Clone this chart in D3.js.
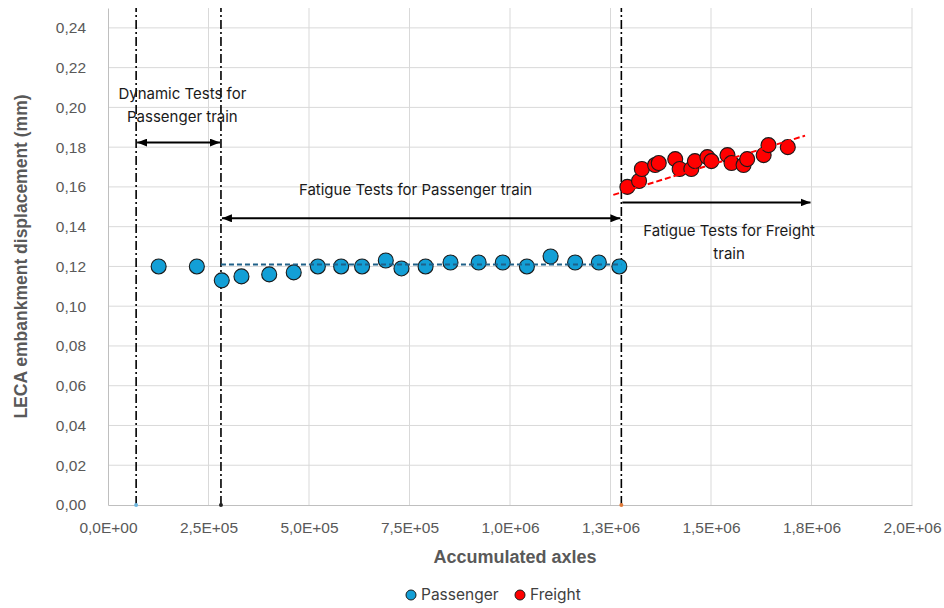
<!DOCTYPE html>
<html>
<head>
<meta charset="utf-8">
<script src="https://cdn.jsdelivr.net/npm/d3@7"></script>
<style>
  html, body { margin: 0; padding: 0; background: #fff; }
  svg { display: block; }
</style>
</head>
<body>
<svg id="chart" width="944" height="608"></svg>
<script>
// Passenger train measurements
const passengerAxles = [126000, 221000, 283000, 332000, 401000, 462000, 522000, 580000, 632000, 691000,
  730000, 790000, 852000, 922000, 982000, 1042000, 1101000, 1162000, 1221000, 1272000];
const passengerDisp = [0.120, 0.120, 0.113, 0.115, 0.116, 0.117, 0.120, 0.120, 0.120, 0.123,
  0.119, 0.120, 0.122, 0.122, 0.122, 0.120, 0.125, 0.122, 0.122, 0.120];

// Freight train measurements
const freightAxles = [1292000, 1321000, 1328000, 1361000, 1370000, 1411000, 1422000, 1451000, 1460000,
  1491000, 1501000, 1541000, 1551000, 1581000, 1590000, 1631000, 1643000, 1691000];
const freightDisp = [0.160, 0.163, 0.169, 0.171, 0.172, 0.174, 0.169, 0.169, 0.173,
  0.175, 0.173, 0.176, 0.172, 0.171, 0.174, 0.176, 0.181, 0.180];

// Trend lines (end points)
const passengerTrendAxles = [281000, 1277000];
const passengerTrendDisp = [0.121, 0.121];
const freightTrendAxles = [1257000, 1734000];
const freightTrendDisp = [0.156, 0.1858];

// Phase boundaries
const phaseBounds = [70000, 281000, 1277000];
const phaseBoundColors = ["#6fb8e0", "#222222", "#e07b39"];

// Axis ticks
const xTicks = [0, 250000, 500000, 750000, 1000000, 1250000, 1500000, 1750000, 2000000];
const yTicks = [0, 0.02, 0.04, 0.06, 0.08, 0.10, 0.12, 0.14, 0.16, 0.18, 0.20, 0.22, 0.24];

// Phase annotations
const phaseArrows = [
  { from: 70000, to: 281000, level: 0.1823, both: true },
  { from: 281000, to: 1277000, level: 0.1442, both: true },
  { from: 1277000, to: 1750000, level: 0.1522, both: false }
];
const phaseLabels = [
  { lines: ["Dynamic Tests for", "Passenger train"], axles: 185000, level: 0.2067 },
  { lines: ["Fatigue Tests for Passenger train"], axles: 765000, level: 0.1585 },
  { lines: ["Fatigue Tests for Freight", "train"], axles: 1545000, level: 0.1382 }
];

const seriesNames = ["Passenger", "Freight"];
const seriesColors = ["#139fd6", "#ff0000"];

const svg = d3.select("#chart");
const margin = { left: 108, right: 32, top: 8, bottom: 103 };
const W = 944, H = 608;

const x = d3.scaleLinear().domain([0, 2000000]).range([margin.left, W - margin.right]);
const y = d3.scaleLinear().domain([0, 0.25]).range([H - margin.bottom, margin.top]);

const tickFont = "'Liberation Sans', Arial, sans-serif";
const textFont = "Inter, 'Open Sans', sans-serif";

function sciLabel(v) {
  if (v === 0) return "0,0E+00";
  const s = v.toExponential(1);
  const [m, e] = s.split("e");
  const ei = parseInt(e, 10);
  const ee = (ei < 0 ? "-" : "+") + String(Math.abs(ei)).padStart(2, "0");
  return m.replace(".", ",") + "E" + ee;
}

// Grid
const grid = svg.append("g");
grid.selectAll("line.h").data(yTicks.slice(1)).join("line")
  .attr("x1", x.range()[0]).attr("x2", x.range()[1])
  .attr("y1", d => y(d)).attr("y2", d => y(d))
  .attr("stroke", "#d9d9d9").attr("stroke-width", 1);
grid.selectAll("line.v").data(xTicks.slice(1)).join("line")
  .attr("x1", d => x(d)).attr("x2", d => x(d))
  .attr("y1", y.range()[0]).attr("y2", y.range()[1])
  .attr("stroke", "#d9d9d9").attr("stroke-width", 1);

// Axes
const xAxis = d3.axisBottom(x).tickValues(xTicks).tickFormat(sciLabel).tickSize(0).tickPadding(17);
const gx = svg.append("g").attr("transform", `translate(0,${y(0)})`).call(xAxis);
gx.select(".domain").attr("stroke", "#bfbfbf");
gx.selectAll("text").attr("font-family", tickFont).attr("font-size", 15.5).attr("fill", "#595959");

const yAxis = d3.axisLeft(y).tickValues(yTicks).tickFormat(d => d3.format(".2f")(d).replace(".", ",")).tickSize(0).tickPadding(22);
const gy = svg.append("g").attr("transform", `translate(${x(0)},0)`).call(yAxis);
gy.select(".domain").attr("stroke", "#bfbfbf");
gy.selectAll("text").attr("font-family", tickFont).attr("font-size", 15.5).attr("fill", "#595959");

// Axis titles
svg.append("text")
  .attr("x", 515).attr("y", 557).attr("dy", "0.35em")
  .attr("text-anchor", "middle")
  .attr("font-family", tickFont).attr("font-weight", "bold").attr("font-size", 18)
  .attr("fill", "#595959").text("Accumulated axles");
svg.append("text")
  .attr("transform", `translate(21,${(y.range()[0] + y.range()[1]) / 2}) rotate(-90)`)
  .attr("dy", "0.35em").attr("text-anchor", "middle")
  .attr("font-family", tickFont).attr("font-weight", "bold").attr("font-size", 17.5)
  .attr("fill", "#595959").text("LECA embankment displacement (mm)");

// Phase boundaries
svg.append("g").selectAll("line").data(phaseBounds).join("line")
  .attr("x1", d => x(d)).attr("x2", d => x(d))
  .attr("y1", y(0)).attr("y2", y(0.25))
  .attr("stroke", "#000").attr("stroke-width", 1.6)
  .attr("stroke-dasharray", "9,3,2,3");
svg.append("g").selectAll("circle").data(phaseBounds).join("circle")
  .attr("cx", d => x(d)).attr("cy", y(0)).attr("r", 2)
  .attr("fill", (d, i) => phaseBoundColors[i]);

// Markers
function drawSeries(xs, ys, color) {
  svg.append("g").selectAll("circle").data(xs.map((v, i) => [v, ys[i]])).join("circle")
    .attr("cx", d => x(d[0])).attr("cy", d => y(d[1])).attr("r", 7.5)
    .attr("fill", color).attr("stroke", "#1a1a1a").attr("stroke-width", 1.1);
}
drawSeries(passengerAxles, passengerDisp, seriesColors[0]);
drawSeries(freightAxles, freightDisp, seriesColors[1]);

// Trend lines
const line = d3.line().x(d => x(d[0])).y(d => y(d[1]));
svg.append("path")
  .attr("d", line(passengerTrendAxles.map((v, i) => [v, passengerTrendDisp[i]])))
  .attr("fill", "none").attr("stroke", "#1f6088").attr("stroke-width", 2)
  .attr("stroke-dasharray", "5,3");
svg.append("path")
  .attr("d", line(freightTrendAxles.map((v, i) => [v, freightTrendDisp[i]])))
  .attr("fill", "none").attr("stroke", "#ff0000").attr("stroke-width", 2)
  .attr("stroke-dasharray", "6,3");

// Arrows
const defs = svg.append("defs");
defs.append("marker").attr("id", "ahEnd")
  .attr("viewBox", "0 0 10 8").attr("refX", 10).attr("refY", 4)
  .attr("markerWidth", 10).attr("markerHeight", 8).attr("markerUnits", "userSpaceOnUse")
  .attr("orient", "auto")
  .append("path").attr("d", "M0,0 L10,4 L0,8 Z").attr("fill", "#000");
defs.append("marker").attr("id", "ahStart")
  .attr("viewBox", "0 0 10 8").attr("refX", 0).attr("refY", 4)
  .attr("markerWidth", 10).attr("markerHeight", 8).attr("markerUnits", "userSpaceOnUse")
  .attr("orient", "auto")
  .append("path").attr("d", "M10,0 L0,4 L10,8 Z").attr("fill", "#000");

svg.append("g").selectAll("line").data(phaseArrows).join("line")
  .attr("x1", d => x(d.from) + 1).attr("x2", d => x(d.to) - 1)
  .attr("y1", d => y(d.level)).attr("y2", d => y(d.level))
  .attr("stroke", "#000").attr("stroke-width", 2)
  .attr("marker-end", "url(#ahEnd)")
  .attr("marker-start", d => d.both ? "url(#ahStart)" : null);

// Phase labels
phaseLabels.forEach(p => {
  const t = svg.append("text")
    .attr("text-anchor", "middle")
    .attr("font-family", textFont).attr("font-size", 15)
    .attr("fill", "#1a1a1a");
  p.lines.forEach((ln, i) => {
    t.append("tspan").attr("x", x(p.axles)).attr("y", y(p.level) + i * 23)
      .attr("dy", "0.35em").text(ln);
  });
});

// Legend
const legend = svg.append("g");
const legendItems = [
  { name: seriesNames[0], color: seriesColors[0], cx: 411 },
  { name: seriesNames[1], color: seriesColors[1], cx: 520 }
];
legendItems.forEach(it => {
  legend.append("circle").attr("cx", it.cx).attr("cy", 595).attr("r", 5)
    .attr("fill", it.color).attr("stroke", "#1a1a1a").attr("stroke-width", 1);
  legend.append("text").attr("x", it.cx + 10).attr("y", 595).attr("dy", "0.35em")
    .attr("font-family", textFont).attr("font-size", 15.5).attr("fill", "#404040")
    .text(it.name);
});
</script>
</body>
</html>
